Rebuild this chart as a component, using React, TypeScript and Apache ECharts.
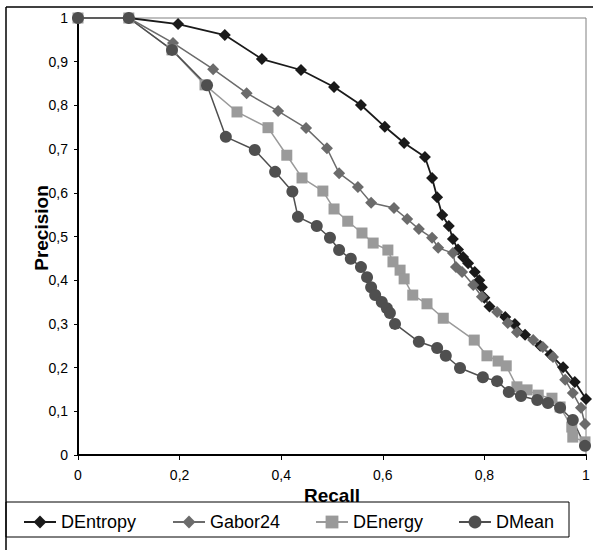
import React, { useEffect, useRef } from "react";
import * as echarts from "echarts";

const seriesNames = ["DEntropy", "Gabor24", "DEnergy", "DMean"];

const dEntropy = [
  [0, 1], [0.1, 1], [0.197, 0.986], [0.289, 0.961], [0.362, 0.906], [0.439, 0.881],
  [0.504, 0.842], [0.557, 0.801], [0.604, 0.751], [0.642, 0.714], [0.683, 0.682],
  [0.697, 0.634], [0.707, 0.59], [0.717, 0.549], [0.73, 0.524], [0.738, 0.494],
  [0.748, 0.47], [0.758, 0.453], [0.768, 0.439], [0.781, 0.419], [0.79, 0.4],
  [0.795, 0.384], [0.8, 0.36], [0.81, 0.34], [0.841, 0.316], [0.86, 0.3],
  [0.88, 0.275], [0.91, 0.25], [0.93, 0.23], [0.955, 0.201], [0.978, 0.167], [1.0, 0.128],
];

const gabor24 = [
  [0, 1], [0.1, 1], [0.187, 0.943], [0.266, 0.883], [0.332, 0.828], [0.394, 0.787],
  [0.449, 0.748], [0.49, 0.702], [0.514, 0.645], [0.551, 0.613], [0.577, 0.577],
  [0.622, 0.565], [0.648, 0.54], [0.671, 0.517], [0.697, 0.497], [0.709, 0.474],
  [0.738, 0.462], [0.744, 0.43], [0.756, 0.419], [0.778, 0.389], [0.795, 0.362],
  [0.825, 0.327], [0.846, 0.302], [0.864, 0.281], [0.896, 0.263], [0.915, 0.247],
  [0.935, 0.224], [0.959, 0.172], [0.974, 0.142], [0.99, 0.108], [0.998, 0.071],
];

const dEnergy = [
  [0, 1], [0.1, 1], [0.185, 0.927], [0.25, 0.847], [0.313, 0.785], [0.374, 0.749],
  [0.411, 0.686], [0.441, 0.634], [0.482, 0.604], [0.504, 0.563], [0.531, 0.535],
  [0.559, 0.508], [0.581, 0.485], [0.61, 0.469], [0.62, 0.442], [0.634, 0.423],
  [0.642, 0.403], [0.659, 0.366], [0.687, 0.346], [0.719, 0.313], [0.78, 0.263],
  [0.805, 0.227], [0.827, 0.215], [0.843, 0.204], [0.864, 0.156], [0.884, 0.149],
  [0.906, 0.137], [0.933, 0.13], [0.949, 0.11], [0.972, 0.064], [0.974, 0.041], [0.998, 0.03],
];

const dMean = [
  [0, 1], [0.1, 1], [0.185, 0.927], [0.254, 0.846], [0.291, 0.728], [0.348, 0.698],
  [0.388, 0.648], [0.422, 0.603], [0.433, 0.545], [0.47, 0.524], [0.496, 0.497],
  [0.514, 0.469], [0.537, 0.449], [0.557, 0.43], [0.569, 0.407], [0.577, 0.384],
  [0.585, 0.366], [0.598, 0.35], [0.608, 0.336], [0.614, 0.325], [0.624, 0.3],
  [0.671, 0.259], [0.707, 0.245], [0.724, 0.227], [0.752, 0.199], [0.797, 0.178],
  [0.825, 0.169], [0.848, 0.144], [0.872, 0.135], [0.904, 0.126], [0.925, 0.119],
  [0.949, 0.108], [0.974, 0.08], [0.998, 0.021],
];

const seriesData = [dEntropy, gabor24, dEnergy, dMean];
const seriesColors = ["#1a1a1a", "#6b6b6b", "#9a9a9a", "#4f4f4f"];
const seriesSymbols = ["diamond", "diamond", "rect", "circle"];
const seriesSymbolSizes = [12, 12, 11, 12];
const legendLefts = [23, 172, 315, 458];

const fmt = (v: number) => {
  const n = Number(v.toFixed(1));
  return String(n).replace(".", ",");
};

export default function App() {
  const ref = useRef<HTMLDivElement>(null);

  useEffect(() => {
    if (!ref.current) return;
    const chart = echarts.init(ref.current, undefined, { renderer: "svg" });
    const font = "'Liberation Sans', Arial, sans-serif";

    chart.setOption({
      animation: false,
      backgroundColor: "#ffffff",
      textStyle: { fontFamily: font },
      grid: {
        left: 78,
        right: 7,
        top: 18,
        bottom: 95,
        show: true,
        borderColor: "#808080",
        borderWidth: 1,
        containLabel: false,
        outerBoundsMode: "none",
      },
      xAxis: {
        type: "value",
        min: 0,
        max: 1,
        interval: 0.2,
        axisLine: { show: true, onZero: false, lineStyle: { color: "#000", width: 2 } },
        axisTick: { show: true, length: 5, lineStyle: { color: "#000", width: 1 } },
        axisLabel: { color: "#000", fontSize: 14, margin: 13, formatter: fmt, fontFamily: font },
        splitLine: { show: false },
      },
      yAxis: {
        type: "value",
        min: 0,
        max: 1,
        interval: 0.1,
        axisLine: { show: true, onZero: false, lineStyle: { color: "#000", width: 2 } },
        axisTick: { show: true, length: 4, lineStyle: { color: "#000", width: 1 } },
        axisLabel: { color: "#000", fontSize: 14, margin: 10, formatter: fmt, fontFamily: font },
        splitLine: { show: false },
      },
      legend: seriesNames.map((name, i) => ({
        data: [name],
        left: legendLefts[i],
        top: 513,
        padding: 0,
        itemWidth: 32,
        itemHeight: 16,
        itemGap: 5,
        textStyle: { color: "#000", fontSize: 18, fontFamily: font, padding: [0, 0, 0, 0] },
      })),
      graphic: [
        {
          type: "line",
          shape: { x1: 6, y1: 7, x2: 600, y2: 7 },
          style: { stroke: "#000", lineWidth: 1.5 },
          silent: true,
        },
        {
          type: "line",
          shape: { x1: 6, y1: 7, x2: 6, y2: 560 },
          style: { stroke: "#000", lineWidth: 1.5 },
          silent: true,
        },
        {
          type: "rect",
          shape: { x: 6, y: 502, width: 563, height: 35 },
          style: { fill: "none", stroke: "#000", lineWidth: 1 },
          silent: true,
          z: -1,
        },
        {
          type: "text",
          x: 41,
          y: 228,
          rotation: Math.PI / 2,
          style: {
            text: "Precision",
            fontSize: 19,
            fontWeight: "bold",
            fontFamily: font,
            fill: "#000",
            align: "center",
            verticalAlign: "middle",
          },
          silent: true,
        },
        {
          type: "text",
          x: 332,
          y: 495,
          style: {
            text: "Recall",
            fontSize: 19,
            fontWeight: "bold",
            fontFamily: font,
            fill: "#000",
            align: "center",
            verticalAlign: "middle",
          },
          silent: true,
        },
      ],
      series: seriesNames.map((name, i) => ({
        name,
        type: "line",
        data: seriesData[i],
        symbol: seriesSymbols[i],
        symbolSize: seriesSymbolSizes[i],
        showAllSymbol: true,
        clip: false,
        lineStyle: { color: seriesColors[i], width: i === 0 ? 1.8 : 1.5 },
        itemStyle: { color: seriesColors[i], borderWidth: 0 },
        emphasis: { disabled: true },
      })),
    });

    return () => chart.dispose();
  }, []);

  return (
    <div
      ref={ref}
      style={{ position: "fixed", left: 0, top: 0, width: 593, height: 550 }}
    />
  );
}
